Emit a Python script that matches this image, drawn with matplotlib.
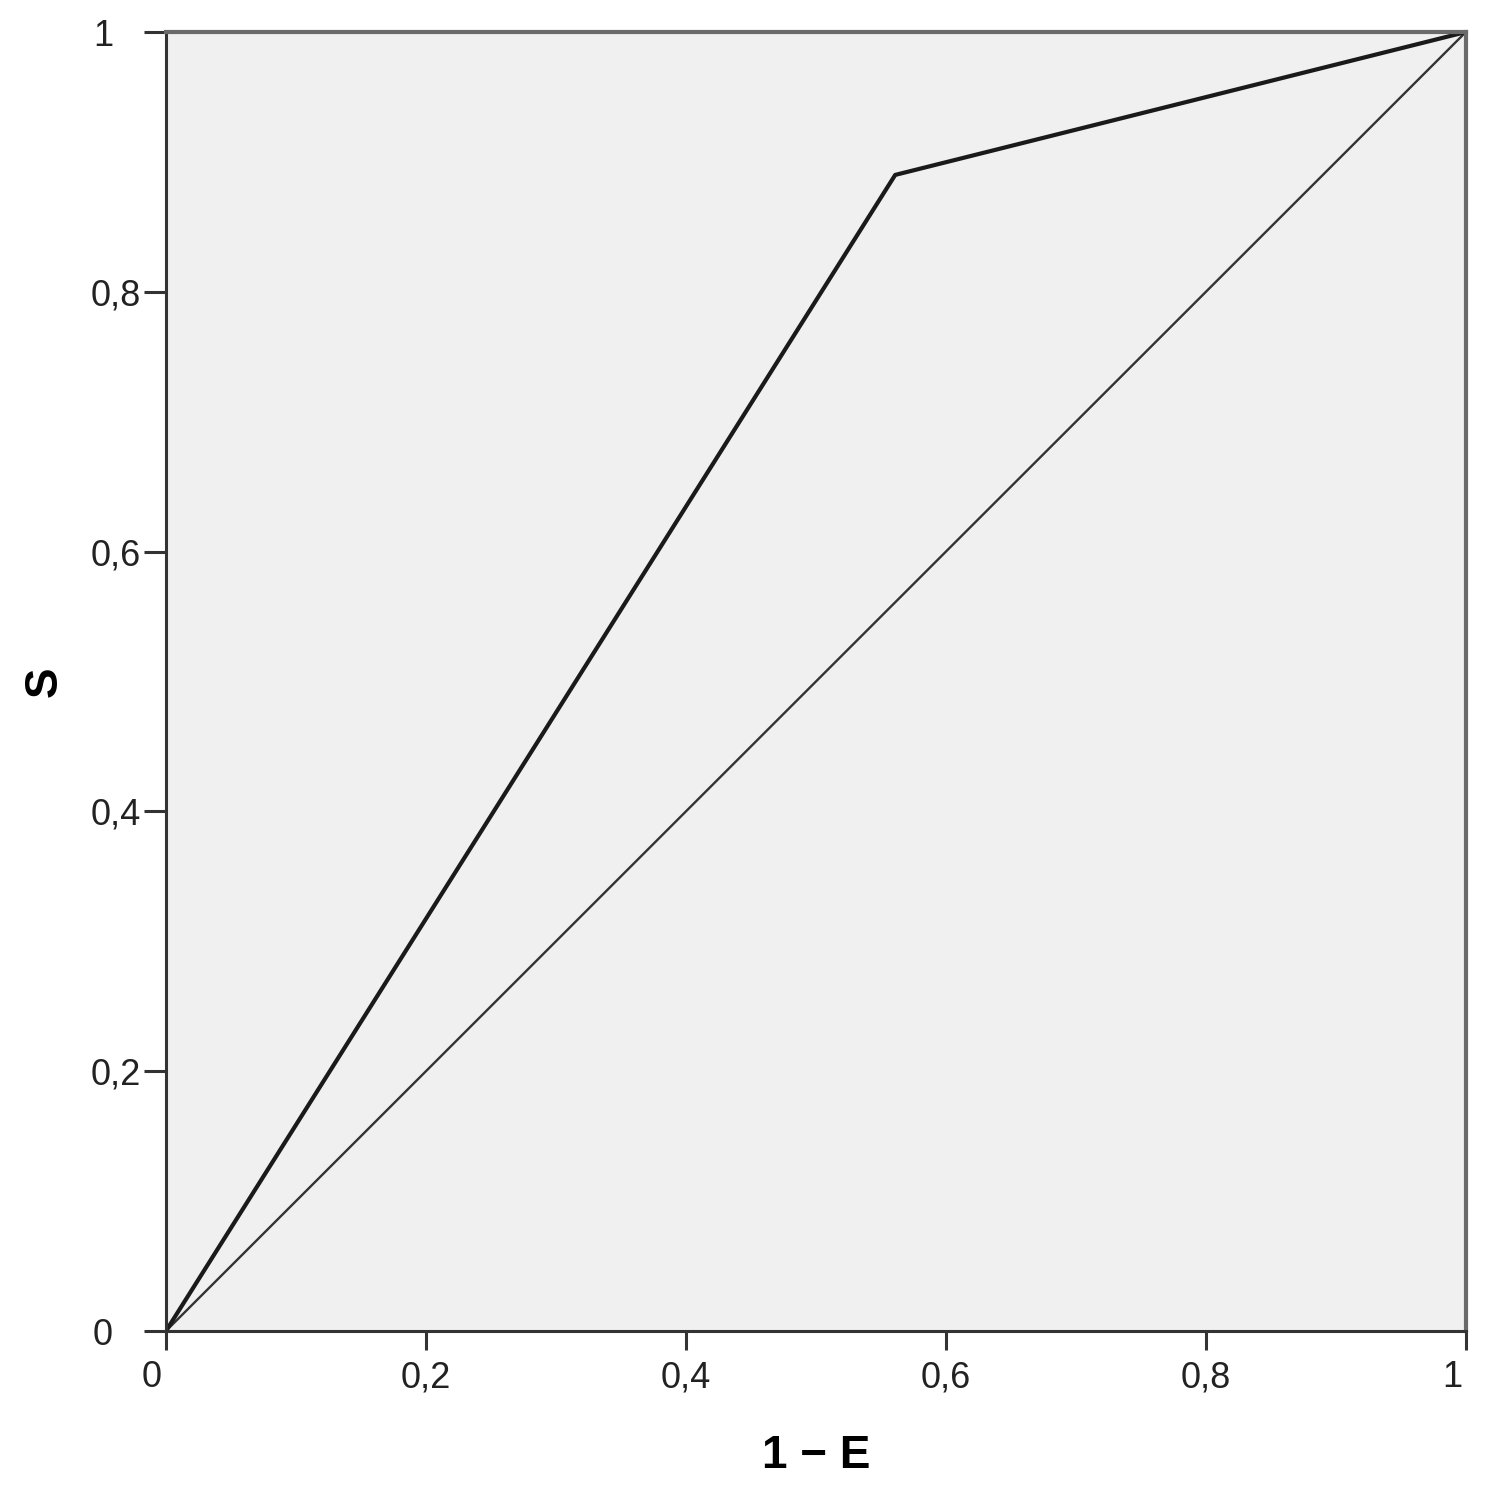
import matplotlib
matplotlib.use('Agg')
import matplotlib.pyplot as plt
from matplotlib.transforms import ScaledTranslation

# ROC curve
fpr = [0.0, 0.561, 1.0]
tpr = [0.0, 0.890, 1.0]
diag_x = [0.0, 1.0]
diag_y = [0.0, 1.0]

ticks = [0, 0.2, 0.4, 0.6, 0.8, 1]
tick_labels = ['0', '0,2', '0,4', '0,6', '0,8', '1']

plt.rcParams['font.family'] = ['Liberation Sans', 'DejaVu Sans']

fig = plt.figure(figsize=(14.95, 14.90), dpi=100)
ax = fig.add_axes([0.111, 0.1067, 0.8695, 0.8718])
ax.set_facecolor('#f0f0f0')

ax.plot(diag_x, diag_y, color='#333333', lw=1.7, solid_capstyle='butt')
ax.plot(fpr, tpr, color='#1a1a1a', lw=3.0)

ax.set_xlim(0, 1)
ax.set_ylim(0, 1)
ax.set_xticks(ticks)
ax.set_yticks(ticks)
ax.set_xticklabels(tick_labels)
ax.set_yticklabels(tick_labels)

ax.tick_params(axis='x', length=14, width=2.2, color='#333333', pad=7,
               labelsize=26, labelcolor='#222222')
ax.tick_params(axis='y', length=16, width=2.2, color='#333333', pad=2,
               labelsize=26, labelcolor='#222222')

# integer labels sit where "0,0" would, like the original
for i, lab in enumerate(ax.get_xticklabels()):
    if ',' not in tick_labels[i]:
        lab.set_transform(lab.get_transform() + ScaledTranslation(-0.14, 0, fig.dpi_scale_trans))
for i, lab in enumerate(ax.get_yticklabels()):
    if ',' not in tick_labels[i]:
        lab.set_transform(lab.get_transform() + ScaledTranslation(-0.28, 0, fig.dpi_scale_trans))

for side in ['left', 'bottom']:
    ax.spines[side].set_color('#333333')
    ax.spines[side].set_linewidth(2.2)
for side in ['top', 'right']:
    ax.spines[side].set_color('#6a6a6a')
    ax.spines[side].set_linewidth(3.0)

ax.set_xlabel('1 \u2212 E', fontsize=33, fontweight='bold', labelpad=28)
ax.set_ylabel('S', fontsize=33, fontweight='bold')
ax.yaxis.set_label_coords(-0.076, 0.5)

fig.savefig('out.png', dpi=100)
